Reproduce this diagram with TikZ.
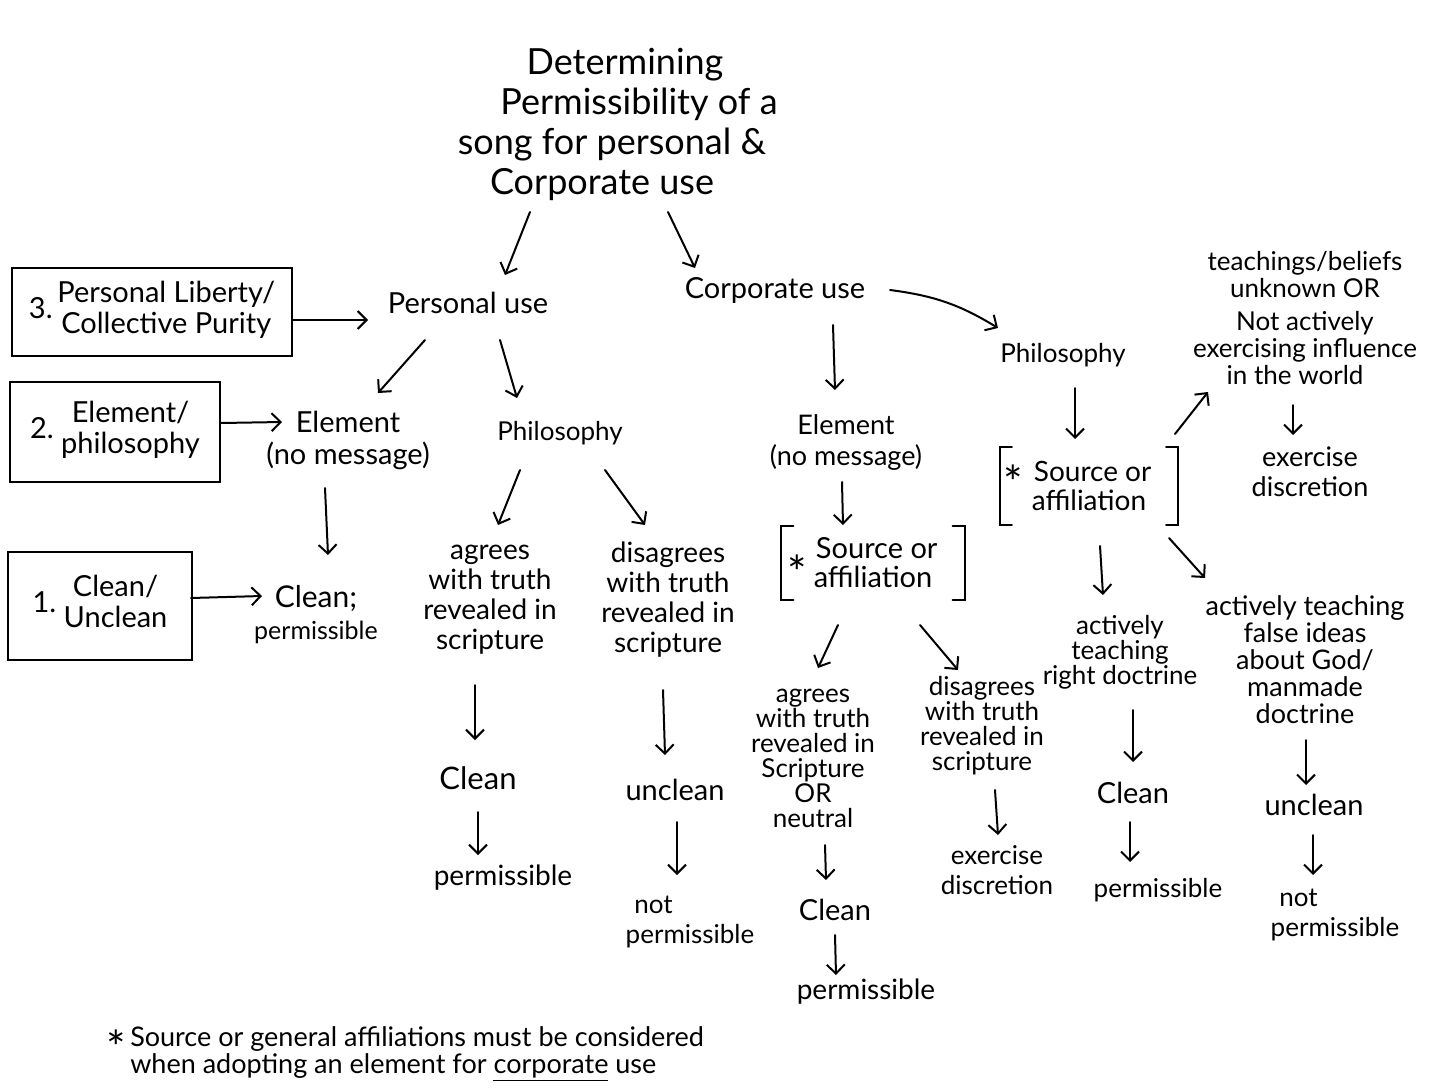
\documentclass[tikz,border=0pt]{standalone}
\usepackage{fontspec}
\setmainfont{Lato}
\usetikzlibrary{arrows.meta,calc}
\begin{document}
\begin{tikzpicture}[x=1pt,y=-1pt,
  txt/.style={align=center,inner sep=1pt,font=\fontsize{26}{30}\selectfont},
  big/.style={align=center,inner sep=1pt,font=\fontsize{29}{34}\selectfont},
  arr/.style={-{Straight Barb[length=9pt,width=18pt,line width=2pt]},line width=2pt,line cap=round},
  boxed/.style={draw,line width=2pt,align=center,inner sep=2pt,font=\fontsize{29}{31}\selectfont},
  star/.style={font=\fontsize{46}{46}\selectfont,inner sep=0pt},
  brk/.style={line width=2.2pt,line cap=round}]
\useasboundingbox (0,0) rectangle (1456,1092);
\fill[white] (0,0) rectangle (1456,1092);
\newcommand\brkbox[1]{%
  \draw[brk] ([xshift=12pt]#1.north west) -- (#1.north west) -- (#1.south west) -- ([xshift=12pt]#1.south west);
  \draw[brk] ([xshift=-12pt]#1.north east) -- (#1.north east) -- (#1.south east) -- ([xshift=-12pt]#1.south east);}

% title
\node[align=center,font=\fontsize{36}{40}\selectfont,inner sep=0pt] (title) at (612,124)
  {\hspace*{26pt}Determining\\\hspace*{54pt}Permissibility of a\\song for personal \&\hspace*{64pt}\\Corporate use\hspace*{20pt}};

% main branches
\node[big] (pu) at (468,303) {Personal use};
\node[big] (cu) at (775,290) {Corporate use};

% left boxes
\node[boxed,minimum width=280,minimum height=88] (b3) at (152,312)
  {3.\,\begin{tabular}{@{}c@{}}Personal Liberty/\\Collective Purity\end{tabular}};
\node[boxed,minimum width=210,minimum height=100] (b2) at (115,432)
  {2.\ \begin{tabular}{@{}c@{}}Element/\\philosophy\end{tabular}};
\node[boxed,minimum width=184,minimum height=108] (b1) at (100,606)
  {1.\ \begin{tabular}{@{}c@{}}Clean/\\Unclean\end{tabular}};

% personal use branch
\node[align=center,inner sep=1pt,font=\fontsize{29}{32}\selectfont] (el1) at (348,440) {Element\\(no message)};
\node[txt] (ph1) at (560,433) {Philosophy};
\node[align=center,inner sep=1pt,font=\fontsize{30}{32}\selectfont] (cl1) at (316,615)
  {Clean;\\\fontsize{25}{26}\selectfont permissible};
\node[align=center,inner sep=1pt,font=\fontsize{28}{30}\selectfont] (ag1) at (490,600) {agrees\\with truth\\revealed in\\scripture};
\node[align=center,inner sep=1pt,font=\fontsize{28}{30}\selectfont] (dg1) at (668,600) {disagrees\\with truth\\revealed in\\scripture};
\node[font=\fontsize{31}{34}\selectfont,inner sep=1pt] (c2) at (478,778) {Clean};
\node[font=\fontsize{28}{32}\selectfont,inner sep=1pt] (p2) at (503,878) {permissible};
\node[big] (u2) at (675,790) {unclean};
\node[txt,align=left] (np2) at (690,922) {\,\,not\\permissible};

% corporate element branch
\node[align=center,inner sep=1pt,font=\fontsize{27}{31}\selectfont] (el2) at (846,443) {Element\\(no message)};
\node[align=center,inner sep=1pt,font=\fontsize{29}{29}\selectfont,minimum width=183,minimum height=73] (sa2) at (873,563) {\ Source or\\affiliation};
\node[star] (ast2) at (797,572) {*};
\node[align=center,inner sep=1pt,font=\fontsize{26}{25}\selectfont] (ag3) at (813,758)
  {agrees\\with truth\\revealed in\\Scripture\\OR\\neutral};
\node[align=center,inner sep=1pt,font=\fontsize{26}{25}\selectfont] (dg3) at (982,726)
  {disagrees\\with truth\\revealed in\\scripture};
\node[big] (c3) at (835,910) {Clean};
\node[font=\fontsize{28}{32}\selectfont,inner sep=1pt] (p3) at (866,992) {permissible};
\node[txt] (ed3) at (997,870) {exercise\\discretion};

% corporate philosophy branch
\node[txt] (ph4) at (1063,355) {Philosophy};
\node[align=center,inner sep=1pt,font=\fontsize{28}{29}\selectfont,minimum width=178,minimum height=77] (sa4) at (1089,486) {\ Source or\\affiliation};
\node[star] (ast4) at (1013,482) {*};
\node[align=center,inner sep=1pt,font=\fontsize{26}{27}\selectfont] (tr) at (1305,318)
  {teachings/beliefs\\unknown OR\hspace*{80pt}\\[6pt]Not actively\hspace*{60pt}\\exercising influence\\in the world\hspace*{20pt}};
\node[align=center,inner sep=1pt,font=\fontsize{27}{30}\selectfont] (ed4) at (1310,472) {exercise\\discretion};
\node[align=center,inner sep=1pt,font=\fontsize{26}{25}\selectfont] (rd) at (1120,652) {actively\\teaching\\right doctrine};
\node[align=center,inner sep=1pt,font=\fontsize{27}{27}\selectfont] (fd) at (1305,660) {actively teaching\\false ideas\\about God/\\manmade\\doctrine};
\node[big] (c5) at (1133,793) {Clean};
\node[txt] (p5) at (1158,890) {permissible};
\node[big] (u6) at (1314,805) {unclean};
\node[txt,align=left] (np6) at (1335,915) {\,\,not\\permissible};

% footnote
\node[anchor=west,inner sep=0pt,font=\fontsize{27}{25}\selectfont] (fn) at (106,1054)
  {\begin{tabular}{@{}l@{\,}l@{}}\raisebox{-18pt}[0pt][0pt]{\fontsize{46}{24}\selectfont *} & Source or general affiliations must be considered\\
   & when adopting an element for \underline{corporate} use\end{tabular}};

% brackets
\brkbox{sa2}
\brkbox{sa4}

% arrows
\draw[arr] ($(title)+(-82,88)$) -- ($(pu)+(37,-28)$);
\draw[arr] ($(title)+(56,88)$) -- ($(cu)+(-80,-22)$);
\draw[arr] ($(b3.east)+(0,8)$) -- ($(pu)+(-100,17)$);
\draw[arr] ($(b2.east)+(0,-9)$) -- ($(el1)+(-66,-18)$);
\draw[arr] ($(b1.east)+(-2,-8)$) -- ($(cl1)+(-54,-19)$);
\draw[arr] ($(pu)+(-43,37)$) -- ($(el1)+(30,-47)$);
\draw[arr] ($(pu)+(32,37)$) -- ($(ph1)+(-43,-35)$);
\draw[arr] ($(el1)+(-23,48)$) -- ($(cl1)+(12,-60)$);
\draw[arr] ($(ph1)+(-40,37)$) -- ($(ag1)+(8,-75)$);
\draw[arr] ($(ph1)+(45,37)$) -- ($(dg1)+(-23,-75)$);
\draw[arr] ($(ag1)+(-15,85)$) -- ($(c2)+(-3,-38)$);
\draw[arr] ($(c2)+(0,34)$) -- ($(p2)+(-25,-23)$);
\draw[arr] ($(dg1)+(-5,90)$) -- ($(u2)+(-10,-35)$);
\draw[arr] ($(u2)+(2,32)$) -- ($(np2)+(-13,-47)$);
\draw[arr] ($(cu)+(58,35)$) -- ($(el2)+(-11,-53)$);
\draw[arr] ($(el2)+(-4,39)$) -- ($(sa2)+(-30,-38)$);
\draw[arr] ($(sa2)+(-35,62)$) -- ($(ag3)+(5,-90)$);
\draw[arr] ($(sa2)+(47,62)$) -- ($(dg3)+(-24,-56)$);
\draw[arr] ($(ag3)+(12,87)$) -- ($(c3)+(-9,-30)$);
\draw[arr] ($(c3)+(0,25)$) -- ($(p3)+(-30,-17)$);
\draw[arr] ($(dg3)+(13,64)$) -- ($(ed3)+(1,-35)$);
\draw[arr] ($(cu)+(115,0)$) to[bend left=12] ($(ph4)+(-65,-27)$);
\draw[arr] ($(ph4)+(12,33)$) -- ($(sa4)+(-14,-47)$);
\draw[arr] ($(sa4)+(86,-52)$) -- ($(tr)+(-97,74)$);
\draw[arr] ($(tr)+(-12,87)$) -- ($(ed4)+(-17,-37)$);
\draw[arr] ($(sa4)+(11,60)$) -- ($(rd)+(-17,-57)$);
\draw[arr] ($(sa4)+(80,52)$) -- ($(fd)+(-100,-82)$);
\draw[arr] ($(rd)+(13,58)$) -- ($(c5)+(0,-31)$);
\draw[arr] ($(c5)+(-3,29)$) -- ($(p5)+(-28,-28)$);
\draw[arr] ($(fd)+(1,80)$) -- ($(u6)+(-8,-20)$);
\draw[arr] ($(u6)+(-1,30)$) -- ($(np6)+(-22,-40)$);
\end{tikzpicture}
\end{document}
